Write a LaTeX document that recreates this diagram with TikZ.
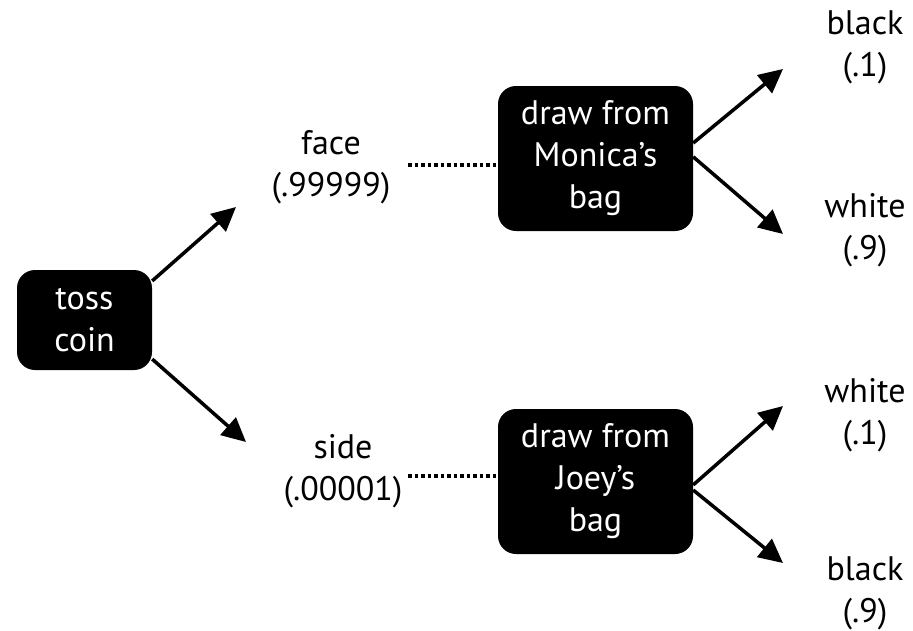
\documentclass[tikz,border=0pt]{standalone}
\usepackage{fontspec}
\setmainfont{PT Sans}
\usetikzlibrary{arrows.meta}
\begin{document}
\begin{tikzpicture}[x=1pt,y=-1pt,
  box/.style={fill=black,text=white,rounded corners=18pt,align=center,inner sep=0pt,
    font=\fontsize{34}{42}\selectfont},
  lbl/.style={align=center,inner sep=0pt,font=\fontsize{34}{42}\selectfont},
  arr/.style={line width=3.5pt,-{Triangle[length=24pt,width=23pt]}},
  dots/.style={line width=3.5pt,dash pattern=on 3.5pt off 3pt}]
\useasboundingbox (0,0) rectangle (913,630);
\node[box,minimum width=135pt,minimum height=100pt] (toss) at (84.5,320) {toss\\coin};
\node[box,minimum width=195pt,minimum height=145pt] (monica) at (595.5,158.5) {draw from\\Monica’s\\bag};
\node[box,minimum width=195pt,minimum height=145pt] (joey) at (595.5,481.5) {draw from\\Joey’s\\bag};
\node[lbl] (face) at (331,167) {face\\(.99999)};
\node[lbl] (side) at (343,471) {side\\(.00001)};
\node[lbl] (mb) at (865,47) {black\\(.1)};
\node[lbl] (mw) at (865,230) {white\\(.9)};
\node[lbl] (jw) at (865,415) {white\\(.1)};
\node[lbl] (jb) at (865,593) {black\\(.9)};
\coordinate (tFace) at (236,207);
\coordinate (tSide) at (246,442);
\coordinate (tMb) at (783,69);
\coordinate (tMw) at (783,234);
\coordinate (tJw) at (783,406);
\coordinate (tJb) at (783,563);
\coordinate (dM) at (408,165);
\coordinate (dJ) at (408,476);
\draw[arr] (toss.30) -- (tFace);
\draw[arr] (toss.-30) -- (tSide);
\draw[arr] (monica.9) -- (tMb);
\draw[arr] (monica.1) -- (tMw);
\draw[arr] (joey.-2) -- (tJw);
\draw[arr] (joey.-5) -- (tJb);
\draw[dots] (dM) -- (dM -| monica.west);
\draw[dots] (dJ) -- (dJ -| joey.west);
\end{tikzpicture}
\end{document}
